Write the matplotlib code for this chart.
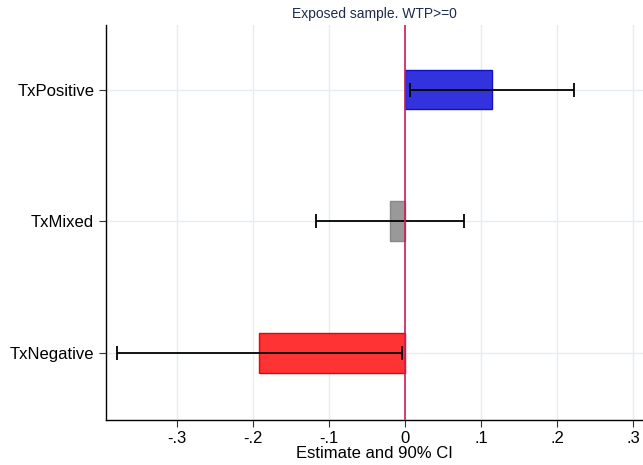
import numpy as np
import matplotlib
matplotlib.use("Agg")
import matplotlib.pyplot as plt

plt.rcParams['font.family'] = ['Liberation Sans', 'DejaVu Sans']

# data
labels = ['TxNegative', 'TxMixed', 'TxPositive']
estimates = [-0.192, -0.020, 0.115]
ci_low = [-0.379, -0.117, 0.007]
ci_high = [-0.004, 0.078, 0.222]
xticks = [-0.3, -0.2, -0.1, 0, 0.1, 0.2, 0.3]
xticklabels = ['-.3', '-.2', '-.1', '0', '.1', '.2', '.3']

face_colors = ['#ff3333', '#999999', '#3333dd']
edge_colors = ['#ee0000', '#888888', '#1111cc']

fig = plt.figure(figsize=(6.43, 4.65), dpi=100)
ax = fig.add_axes([106 / 643, 45 / 465, 537 / 643, 395 / 465])

ypos = np.arange(1, len(labels) + 1)

# light grid
for x in xticks:
    ax.axvline(x, color='#e4eef0', lw=1, zorder=0)
for y in ypos:
    ax.axhline(y, color='#e4eef0', lw=1, zorder=0)

ax.barh(ypos, estimates, height=0.30, color=face_colors,
        edgecolor=edge_colors, linewidth=1, zorder=2)

est = np.array(estimates)
err = [est - np.array(ci_low), np.array(ci_high) - est]
ax.errorbar(est, ypos, xerr=err, fmt='none', ecolor='black',
            elinewidth=1.3, capsize=5, capthick=1.3, zorder=3)

ax.axvline(0, color='#cc1f55', lw=1.2, zorder=4)

ax.set_xlim(-0.393, 0.313)
ax.set_ylim(0.49, 3.49)
ax.set_xticks(xticks)
ax.set_xticklabels(xticklabels)
ax.set_yticks(ypos)
ax.set_yticklabels(labels)
ax.tick_params(axis='both', labelsize=12, length=5, width=0.8, color='#333333')
ax.tick_params(axis='x', pad=3)

for side in ['top', 'right']:
    ax.spines[side].set_visible(False)
ax.spines['left'].set_linewidth(1)
ax.spines['bottom'].set_linewidth(1)

ax.set_xlabel('Estimate and 90% CI', fontsize=12, labelpad=0)
ax.set_title('Exposed sample. WTP>=0', fontsize=10, color='#1e2a50', pad=5)

fig.savefig('out.png', dpi=100)
